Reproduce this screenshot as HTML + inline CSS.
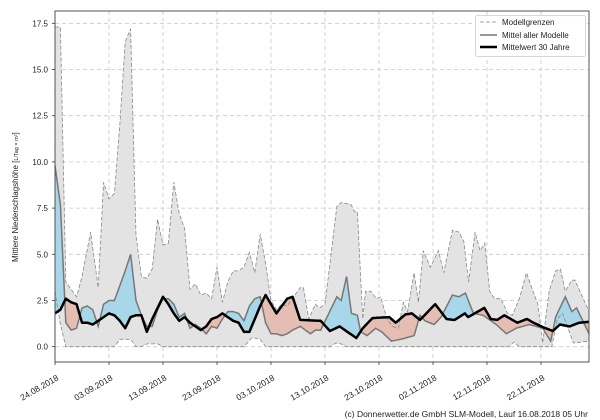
<!DOCTYPE html>
<html><head><meta charset="utf-8"><style>
body{margin:0;background:#fff}
svg{display:block;font-family:"Liberation Sans",sans-serif}
</style></head><body>
<svg id="s" width="600" height="420" xmlns="http://www.w3.org/2000/svg"></svg>
<script>
const up=[[0,17.3],[1,17.3],[2,3.5],[4,2.7],[5,3.8],[6.6,6.2],[8,3.2],[9,8.9],[10,8.0],[11,8.3],[12,12],[13,16.5],[14,17.2],[15,6],[16,3.8],[17,3.7],[18,4.2],[19,6.9],[20,5.5],[21,5.6],[22,8.9],[23,7.2],[24,6.4],[25,3.1],[26,3.4],[27,2.8],[28,2.9],[29,2.6],[30,4.3],[31,2.4],[32,3.5],[33,4.1],[34,4.1],[35,4.3],[36,5.1],[37,4.0],[38,6.1],[39,4.5],[40,2.5],[41,2.0],[42,2.3],[43,2.2],[45.4,3.2],[46,3.2],[47,1.5],[48.2,2.3],[49,2.1],[50,2.3],[52.2,7.6],[53,7.8],[54.8,7.7],[55.5,7.3],[56,7.3],[57,1.5],[57.5,3.0],[58.5,3.0],[59.5,2.6],[60.3,2.7],[61.5,1.5],[62.5,1.1],[63.6,1.0],[64.5,2.4],[65.3,1.9],[66.5,4.0],[67.3,2.4],[68.2,5.2],[69.5,4.3],[71,5.2],[72,4.0],[73.6,6.3],[74.8,6.2],[75.7,5.7],[76.6,3.5],[77.8,6.2],[78.7,5.2],[79.6,5.6],[80.5,3.0],[81.4,2.6],[82.6,2.6],[83.8,1.8],[84.7,1.7],[86,2.6],[87.3,4.0],[89.4,2.3],[90.3,0.2],[91.5,3.0],[92.7,4.1],[93.6,4.2],[94.5,3.0],[95.7,3.6],[96.3,3.6],[98.9,1.9]];
const lo=[[0,3.0],[1,1.2],[2,0],[11,0],[12,0.4],[14,0.4],[15,0],[16,0],[17,0.15],[19,0.15],[20,0],[35,0],[36.5,0.5],[38,0.4],[39,0],[51,0],[52,0.2],[53,0.15],[54,0],[84,0],[85,0.25],[86,0],[92,0],[93,1.5],[94,1.8],[96,0.2],[98.9,0.3]];
const me=[[0,9.8],[1,7.7],[2,1.3],[3,0.9],[4,1.0],[5,2.1],[6,2.2],[7,2.0],[8,1.1],[9,2.3],[10,2.5],[11,2.5],[12,3.3],[13,4.1],[14,5.0],[15,2.5],[16,1.7],[17,1.1],[18,1.1],[19,2.0],[20,2.6],[21,2.6],[22,2.3],[23,1.6],[24,1.8],[25,1.0],[26,1.2],[27,1.0],[28,0.7],[29,1.1],[30,1.0],[31,1.5],[32,1.9],[33,1.9],[34,1.8],[35,1.4],[36,2.2],[37,2.6],[38,2.7],[39,1.3],[40,0.7],[41,0.7],[42,0.6],[43,0.7],[44,0.9],[45.4,1.1],[47.3,0.7],[48.2,0.9],[49.2,0.9],[52.2,2.7],[53,2.5],[54,3.8],[54.9,1.8],[56,1.7],[56.6,0.8],[57.8,0.6],[59.4,1.0],[60.5,0.8],[62.3,0.3],[64,0.4],[66.5,0.6],[67.6,1.7],[68.5,1.4],[70.2,1.2],[71.5,1.6],[73.6,2.8],[74.8,2.7],[76,2.9],[77.5,1.8],[79.3,1.7],[81.7,1.2],[83.6,0.7],[85.4,1.0],[87.8,1.2],[90.3,1.0],[91.8,0.3],[92.7,1.6],[94.5,2.7],[95.7,1.9],[96.6,2.1],[98.9,0.7]];
const cl=[[0,1.8],[1,2.0],[2,2.6],[3,2.4],[4,2.3],[5,1.3],[6,1.3],[7,1.2],[8,1.4],[9,1.6],[10,1.8],[11,1.7],[12,1.4],[13,1.0],[14,1.6],[15,1.7],[16,1.7],[17,0.8],[18,1.5],[19,2.1],[20,2.7],[21,2.3],[22,1.8],[23,1.4],[24,1.6],[25,1.3],[26,1.1],[27,0.9],[28,1.1],[29,1.5],[30,1.6],[31,1.8],[32,1.6],[33,1.4],[34,1.3],[35,0.8],[36,0.8],[37,1.5],[38,2.2],[39,2.8],[40,2.3],[41,1.8],[42,2.2],[43,2.6],[44,2.7],[45.4,1.45],[49.2,1.4],[50.9,0.85],[52.7,1.1],[55.8,0.47],[57,1.0],[58.8,1.55],[61.9,1.6],[63.1,1.3],[64.9,1.75],[66.1,1.8],[67.6,1.45],[70.4,2.3],[72.5,1.5],[74,1.45],[75.9,1.8],[76.5,1.6],[77.7,1.8],[79.5,2.1],[80.7,1.5],[81.9,1.45],[83.2,1.7],[85.6,1.3],[87.4,1.5],[88.6,1.3],[90.4,1.05],[92.2,0.85],[93.5,1.2],[95.3,1.1],[97.1,1.3],[98.9,1.35]];
const N=99;
function interp(a,d){for(let i=0;i<a.length-1;i++){if(d>=a[i][0]&&d<=a[i+1][0]){const t=(d-a[i][0])/(a[i+1][0]-a[i][0]);return a[i][1]+t*(a[i+1][1]-a[i][1]);}}return a[a.length-1][1];}
function days(){const s=new Set();for(const a of[up,lo,me,cl])for(const p of a)s.add(p[0]);return [...s].sort((a,b)=>a-b);}
const D=days();
const X=d=>55+d*5.4, Y=v=>346.7-v*18.48;
const pts=a=>D.map(d=>X(d).toFixed(1)+","+Y(interp(a,d)).toFixed(1));
const rev=a=>pts(a).slice().reverse();
let h='';
h+='<defs><clipPath id="pa"><rect x="55" y="11" width="534" height="351"/></clipPath>';
h+='<clipPath id="aboveCl"><polygon points="'+pts(cl).join(" ")+' '+X(N)+',0 '+X(0)+',0"/></clipPath>';
h+='<clipPath id="aboveMe"><polygon points="'+pts(me).join(" ")+' '+X(N)+',0 '+X(0)+',0"/></clipPath></defs>';
let g='';
const yt=[0,2.5,5,7.5,10,12.5,15,17.5];
for(const v of yt){g+=`<line x1="55" x2="589" y1="${Y(v)}" y2="${Y(v)}" stroke="#c8c8c8" stroke-width="0.8" stroke-dasharray="4,3"/>`;
h+=`<text x="48" y="${Y(v)+3}" font-size="8" text-anchor="end" fill="#222">${v.toFixed(1)}</text>`;}
const xl=["24.08.2018","03.09.2018","13.09.2018","23.09.2018","03.10.2018","13.10.2018","23.10.2018","02.11.2018","12.11.2018","22.11.2018"];
xl.forEach((l,i)=>{const x=55+i*54;g+=`<line x1="${x}" x2="${x}" y1="11" y2="362" stroke="#c8c8c8" stroke-width="0.8" stroke-dasharray="4,3"/>`;
h+=`<line x1="${x}" x2="${x}" y1="362" y2="365" stroke="#333" stroke-width="0.8"/>`;
h+=`<text transform="translate(${x+1},374) rotate(-30)" font-size="8.5" text-anchor="end" dominant-baseline="hanging" fill="#222">${l}</text>`;});
h+=g;
h+='<g clip-path="url(#pa)">';
h+='<polygon points="'+pts(up).join(" ")+' '+rev(lo).join(" ")+'" fill="#e3e3e3"/>';
h+='<g clip-path="url(#aboveCl)"><polygon points="'+pts(me).join(" ")+' '+X(N)+',400 '+X(0)+',400" fill="#a9d7ea"/></g>';
h+='<g clip-path="url(#aboveMe)"><polygon points="'+pts(cl).join(" ")+' '+X(N)+',400 '+X(0)+',400" fill="#e6bdb2"/></g>';
h+='<polyline points="'+pts(up).join(" ")+'" fill="none" stroke="#888" stroke-width="0.8" stroke-dasharray="4,2"/>';
h+='<polyline points="'+pts(lo).join(" ")+'" fill="none" stroke="#888" stroke-width="0.8" stroke-dasharray="4,2"/>';
h+='<polyline points="'+pts(me).join(" ")+'" fill="none" stroke="#777" stroke-width="1.5"/>';
h+='<polyline points="'+pts(cl).join(" ")+'" fill="none" stroke="#000" stroke-width="2.5" stroke-linejoin="round"/>';
h+='</g>';
for(const v of yt)h+=`<line x1="52" x2="55" y1="${Y(v)}" y2="${Y(v)}" stroke="#333" stroke-width="0.8"/>`;
h+='<rect x="55" y="11" width="534" height="351" fill="none" stroke="#444" stroke-width="0.9"/>';
h+='<text transform="translate(18,262) rotate(-90)" font-size="8" fill="#222">Mittlere Niederschlagshöhe [<tspan font-size="5.5">L/Tag × m²</tspan>]</text>';
h+='<rect x="475.5" y="15.5" width="110" height="41" fill="#fff" fill-opacity="0.9" stroke="#ccc" stroke-width="0.8" rx="2"/>';
h+='<line x1="480" x2="497" y1="22" y2="22" stroke="#888" stroke-width="0.8" stroke-dasharray="4,2"/><text x="502" y="25" font-size="8" fill="#222">Modellgrenzen</text>';
h+='<line x1="480" x2="497" y1="35" y2="35" stroke="#777" stroke-width="1.5"/><text x="502" y="38" font-size="8" fill="#222">Mittel aller Modelle</text>';
h+='<line x1="480" x2="497" y1="47" y2="47" stroke="#000" stroke-width="2.5"/><text x="502" y="50" font-size="8" fill="#222">Mittelwert 30 Jahre</text>';
h+='<text x="588" y="417" font-size="8.5" text-anchor="end" fill="#222">(c) Donnerwetter.de GmbH SLM-Modell, Lauf 16.08.2018 05 Uhr</text>';
document.getElementById('s').innerHTML=h;
</script>
</body></html>
